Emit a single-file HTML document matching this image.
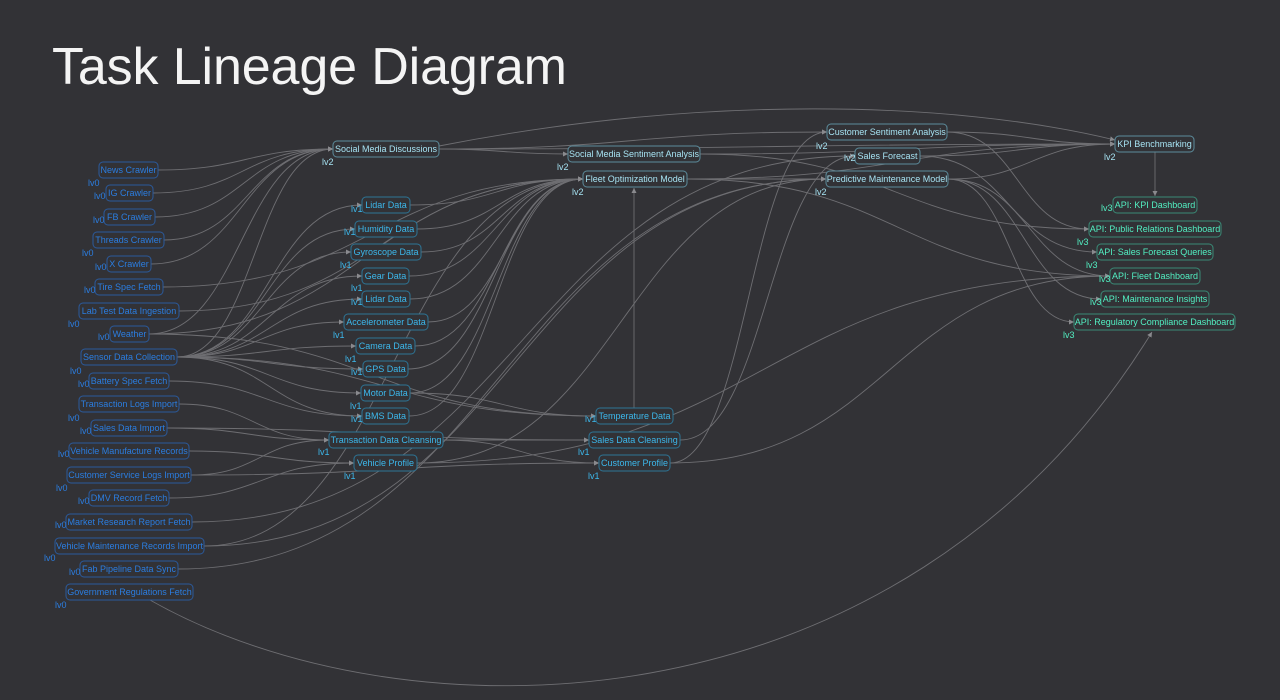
<!DOCTYPE html>
<html><head><meta charset="utf-8"><style>
html,body{margin:0;padding:0;background:#323236;width:1280px;height:700px;overflow:hidden}
svg{display:block}
text{font-family:"Liberation Sans",sans-serif}
.n text{font-size:9px;text-anchor:middle;dominant-baseline:central}
.l0 rect{fill:#323236;stroke:#2b5a9c;stroke-width:1}
.l0 text,.t0{fill:#2b7de0}
.l1 rect{fill:#323236;stroke:#2d7596;stroke-width:1}
.l1 text,.t1{fill:#3cb8ec}
.l2 rect{fill:#323236;stroke:#5c8c9c;stroke-width:1}
.l2 text,.t2{fill:#a6e2f2}
.l3 rect{fill:#323236;stroke:#3a8a76;stroke-width:1}
.l3 text,.t3{fill:#52efc2}
.lv{font-size:9px}
</style></head><body>
<svg id="s" width="1280" height="700" xmlns="http://www.w3.org/2000/svg">
<defs><marker id="a" markerWidth="6" markerHeight="6" refX="5" refY="3" orient="auto" markerUnits="userSpaceOnUse"><path d="M0,0.5 L5,3 L0,5.5z" fill="#8a8a8e"/></marker></defs>
<text x="52" y="84" font-size="52" fill="#f4f4f4" textLength="515">Task Lineage Diagram</text>
<g id="edges" fill="none" stroke="#6e6e72" stroke-width="0.9"></g>
<path d="M150,600 C400,742 900,742 1152,332" fill="none" stroke="#6e6e72" stroke-width="0.9" marker-end="url(#a)"/>

<g class="n l0">
<rect x="99" y="162" width="59" height="16" rx="4"/><text x="128.5" y="170">News Crawler</text>
<rect x="106" y="185" width="47" height="16" rx="4"/><text x="129.5" y="193">IG Crawler</text>
<rect x="104" y="209" width="51" height="16" rx="4"/><text x="129.5" y="217">FB Crawler</text>
<rect x="93" y="232" width="71" height="16" rx="4"/><text x="128.5" y="240">Threads Crawler</text>
<rect x="107" y="256" width="44" height="16" rx="4"/><text x="129" y="264">X Crawler</text>
<rect x="95" y="279" width="68" height="16" rx="4"/><text x="129" y="287">Tire Spec Fetch</text>
<rect x="79" y="303" width="100" height="16" rx="4"/><text x="129" y="311">Lab Test Data Ingestion</text>
<rect x="110" y="326" width="39" height="16" rx="4"/><text x="129.5" y="334">Weather</text>
<rect x="81" y="349" width="96" height="16" rx="4"/><text x="129" y="357">Sensor Data Collection</text>
<rect x="89" y="373" width="80" height="16" rx="4"/><text x="129" y="381">Battery Spec Fetch</text>
<rect x="79" y="396" width="100" height="16" rx="4"/><text x="129" y="404">Transaction Logs Import</text>
<rect x="91" y="420" width="76" height="16" rx="4"/><text x="129" y="428">Sales Data Import</text>
<rect x="69" y="443" width="120" height="16" rx="4"/><text x="129" y="451">Vehicle Manufacture Records</text>
<rect x="67" y="467" width="124" height="16" rx="4"/><text x="129" y="475">Customer Service Logs Import</text>
<rect x="89" y="490" width="80" height="16" rx="4"/><text x="129" y="498">DMV Record Fetch</text>
<rect x="66" y="514" width="126" height="16" rx="4"/><text x="129" y="522">Market Research Report Fetch</text>
<rect x="55" y="538" width="149" height="16" rx="4"/><text x="129.5" y="546">Vehicle Maintenance Records Import</text>
<rect x="80" y="561" width="98" height="16" rx="4"/><text x="129" y="569">Fab Pipeline Data Sync</text>
<rect x="66" y="584" width="127" height="16" rx="4"/><text x="129.5" y="592">Government Regulations Fetch</text>
</g>
<g class="lv t0">
<text x="88" y="186">lv0</text><text x="94" y="199">lv0</text><text x="93" y="223">lv0</text><text x="82" y="256">lv0</text><text x="95" y="270">lv0</text><text x="84" y="293">lv0</text><text x="68" y="327">lv0</text><text x="98" y="340">lv0</text><text x="70" y="374">lv0</text><text x="78" y="387">lv0</text><text x="68" y="421">lv0</text><text x="80" y="434">lv0</text><text x="58" y="457">lv0</text><text x="56" y="491">lv0</text><text x="78" y="504">lv0</text><text x="55" y="528">lv0</text><text x="44" y="561">lv0</text><text x="69" y="575">lv0</text><text x="55" y="608">lv0</text>
</g>

<g class="n l1">
<rect x="362" y="197" width="48" height="16" rx="4"/><text x="386" y="205">Lidar Data</text>
<rect x="355" y="221" width="62" height="16" rx="4"/><text x="386" y="229">Humidity Data</text>
<rect x="351" y="244" width="70" height="16" rx="4"/><text x="386" y="252">Gyroscope Data</text>
<rect x="362" y="268" width="47" height="16" rx="4"/><text x="385.5" y="276">Gear Data</text>
<rect x="362" y="291" width="48" height="16" rx="4"/><text x="386" y="299">Lidar Data</text>
<rect x="344" y="314" width="84" height="16" rx="4"/><text x="386" y="322">Accelerometer Data</text>
<rect x="356" y="338" width="59" height="16" rx="4"/><text x="385.5" y="346">Camera Data</text>
<rect x="363" y="361" width="45" height="16" rx="4"/><text x="385.5" y="369">GPS Data</text>
<rect x="361" y="385" width="49" height="16" rx="4"/><text x="385.5" y="393">Motor Data</text>
<rect x="362" y="408" width="47" height="16" rx="4"/><text x="385.5" y="416">BMS Data</text>
<rect x="329" y="432" width="114" height="16" rx="4"/><text x="386" y="440">Transaction Data Cleansing</text>
<rect x="354" y="455" width="63" height="16" rx="4"/><text x="385.5" y="463">Vehicle Profile</text>
<rect x="596" y="408" width="77" height="16" rx="4"/><text x="634.5" y="416">Temperature Data</text>
<rect x="589" y="432" width="91" height="16" rx="4"/><text x="634.5" y="440">Sales Data Cleansing</text>
<rect x="599" y="455" width="71" height="16" rx="4"/><text x="634.5" y="463">Customer Profile</text>
</g>
<g class="lv t1">
<text x="351" y="212">lv1</text><text x="344" y="235">lv1</text><text x="340" y="268">lv1</text><text x="351" y="291">lv1</text><text x="351" y="305">lv1</text><text x="333" y="338">lv1</text><text x="345" y="362">lv1</text><text x="351" y="375">lv1</text><text x="350" y="409">lv1</text><text x="351" y="422">lv1</text><text x="318" y="455">lv1</text><text x="344" y="479">lv1</text><text x="585" y="422">lv1</text><text x="578" y="455">lv1</text><text x="588" y="479">lv1</text>
</g>

<g class="n l2">
<rect x="333" y="141" width="106" height="16" rx="4"/><text x="386" y="149">Social Media Discussions</text>
<rect x="568" y="146" width="132" height="16" rx="4"/><text x="634" y="154">Social Media Sentiment Analysis</text>
<rect x="583" y="171" width="104" height="16" rx="4"/><text x="635" y="179">Fleet Optimization Model</text>
<rect x="827" y="124" width="120" height="16" rx="4"/><text x="887" y="132">Customer Sentiment Analysis</text>
<rect x="855" y="148" width="65" height="16" rx="4"/><text x="887.5" y="156">Sales Forecast</text>
<rect x="826" y="171" width="122" height="16" rx="4"/><text x="887" y="179">Predictive Maintenance Model</text>
<rect x="1115" y="136" width="79" height="16" rx="4"/><text x="1154.5" y="144">KPI Benchmarking</text>
</g>
<g class="lv t2">
<text x="322" y="165">lv2</text><text x="557" y="170">lv2</text><text x="572" y="195">lv2</text><text x="816" y="149">lv2</text><text x="844" y="161">lv2</text><text x="815" y="195">lv2</text><text x="1104" y="160">lv2</text>
</g>

<g class="n l3">
<rect x="1113" y="197" width="84" height="16" rx="4"/><text x="1155" y="205">API: KPI Dashboard</text>
<rect x="1089" y="221" width="132" height="16" rx="4"/><text x="1155" y="229">API: Public Relations Dashboard</text>
<rect x="1097" y="244" width="116" height="16" rx="4"/><text x="1155" y="252">API: Sales Forecast Queries</text>
<rect x="1110" y="268" width="90" height="16" rx="4"/><text x="1155" y="276">API: Fleet Dashboard</text>
<rect x="1101" y="291" width="108" height="16" rx="4"/><text x="1155" y="299">API: Maintenance Insights</text>
<rect x="1074" y="314" width="161" height="16" rx="4"/><text x="1154.5" y="322">API: Regulatory Compliance Dashboard</text>
</g>
<g class="lv t3">
<text x="1101" y="211">lv3</text><text x="1077" y="245">lv3</text><text x="1086" y="268">lv3</text><text x="1099" y="282">lv3</text><text x="1090" y="305">lv3</text><text x="1063" y="338">lv3</text>
</g>
</svg>
<script>
var E=[
[158,170,333,149],[153,193,333,149],[155,217,333,149],[164,240,333,149],[151,264,333,149],
[149,334,333,149],[149,334,583,179],[177,357,333,149],[204,546,583,179],
[439,149,568,154],[439,149,827,132],[439,149,1115,144],
[177,357,362,205],[177,357,355,229],[177,357,351,252],[177,357,362,276],[177,357,362,299],[177,357,344,322],[177,357,356,346],[177,357,363,369],[177,357,361,393],[177,357,362,416],[177,357,596,416],
[163,287,583,179],[179,311,583,179],
[410,205,583,179],[417,229,583,179],[421,252,583,179],[409,276,583,179],[410,299,583,179],[428,322,583,179],[415,346,583,179],[408,369,583,179],[410,393,583,179],[409,416,583,179],
[169,381,362,416],[179,404,329,440],[167,428,329,440],[167,428,589,440],[189,451,354,463],[191,475,329,440],[191,475,599,463],[169,498,354,463],
[192,522,855,156],[204,546,826,179],[178,569,826,179],[149,334,596,416],
[443,440,589,440],[443,440,599,463],[417,463,826,179],[417,463,1110,276],[410,393,596,416],
[680,440,855,156],[670,463,827,132],[670,463,1110,276],
[700,154,1115,144],[700,154,1089,229],[687,179,826,179],[687,179,1110,276],[687,179,1115,144],
[947,132,1115,144],[947,132,1089,229],[920,156,1115,144],[920,156,1097,252],
[948,179,1115,144],[948,179,1101,299],[948,179,1110,276],[948,179,1074,322]
];
var g=document.getElementById('edges'),h='';
E.forEach(function(e){var sx=e[0],sy=e[1],tx=e[2],ty=e[3],m=(tx-sx)/2;
h+='<path d="M'+sx+','+sy+' C'+(sx+m)+','+sy+' '+(tx-m)+','+ty+' '+tx+','+ty+'" marker-end="url(#a)"/>';});
h+='<path d="M634,408 L634,188" marker-end="url(#a)"/><path d="M1155,152 L1155,196" marker-end="url(#a)"/>';
h+='<path d="M439,146 C700,95 950,100 1115,140" marker-end="url(#a)"/>';
g.innerHTML=h;
</script>
</body></html>
